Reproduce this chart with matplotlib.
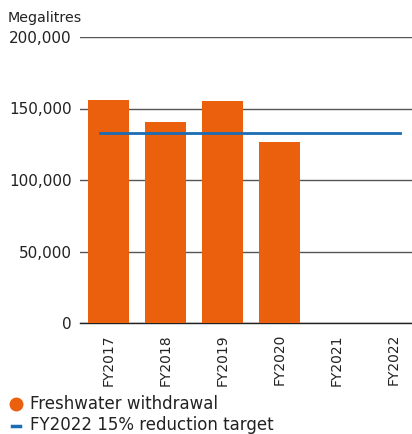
import numpy as np
import matplotlib
matplotlib.use("Agg")
import matplotlib.pyplot as plt
from matplotlib.lines import Line2D

years = ["FY2017", "FY2018", "FY2019", "FY2020", "FY2021", "FY2022"]
withdrawal = [156000, 140600, 155200, 126600, 0, 0]
target = 132600  # FY2022 15% reduction target
yticks = [0, 50000, 100000, 150000, 200000]

orange = "#EA600D"
blue = "#1B6CB3"
txt = "#222222"

plt.rcParams["font.family"] = ["DejaVu Sans"]

fig = plt.figure(figsize=(4.12, 4.34), dpi=100)
ax = fig.add_axes([80 / 412, 1 - 323 / 434, 1 - 80 / 412, (323 - 37) / 434])

x = np.arange(len(years))
ax.bar(x[:4], withdrawal[:4], width=0.72, color=orange, zorder=3)
ax.plot([-0.15, 5.11], [target, target], color=blue, lw=2, zorder=4)

ax.set_xlim(-0.5, 5.32)
ax.set_ylim(0, 200000)
ax.set_yticks(yticks)
ax.set_yticklabels([f"{v:,}" for v in yticks], fontsize=11, color=txt)
ax.set_xticks(x)
ax.set_xticklabels(years, rotation=90, fontsize=10, color=txt)
ax.tick_params(axis="y", length=0, pad=6)
ax.tick_params(axis="x", length=0, pad=8)

ax.grid(axis="y", color="#555555", lw=1, zorder=1)
for s in ["top", "right", "left"]:
    ax.spines[s].set_visible(False)
ax.spines["bottom"].set_color("#222222")
ax.spines["bottom"].set_linewidth(1)

fig.text(8 / 412, 1 - 18 / 434, "Megalitres", fontsize=10.3, color=txt, va="center")

# legend
fig.add_artist(Line2D([16 / 412], [1 - 404 / 434], marker="o", ms=9, color=orange, lw=0))
fig.text(30 / 412, 1 - 404 / 434, "Freshwater withdrawal", fontsize=12, color=txt, va="center")
fig.add_artist(Line2D([12 / 412, 20 / 412], [1 - 426 / 434, 1 - 426 / 434], color=blue, lw=2.5))
fig.text(30 / 412, 1 - 425 / 434, "FY2022 15% reduction target", fontsize=12, color=txt, va="center")

fig.savefig("out.png", dpi=100)
